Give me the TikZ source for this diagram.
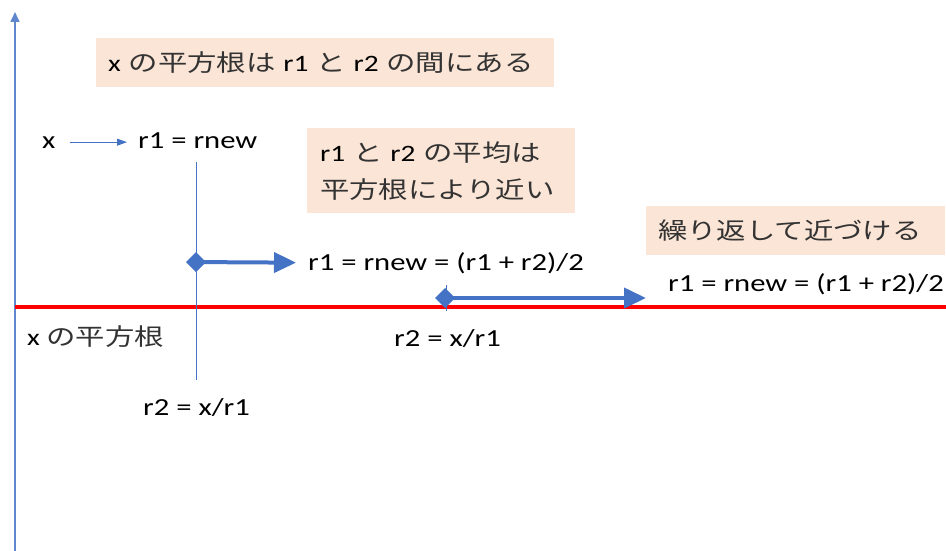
\documentclass[tikz,border=0pt]{standalone}
\usepackage{fontspec}
\setmainfont[FakeStretch=1.25]{Carlito}
\newfontfamily\jpfont[FakeStretch=1.25]{Noto Sans CJK JP}
\usetikzlibrary{shapes,arrows,arrows.meta}
\definecolor{lineblue}{HTML}{4472C4}
\definecolor{notefill}{HTML}{FBE5D6}
\newcommand{\ja}[1]{{\jpfont\color{black!80}#1}}
\DeclareRobustCommand{\notefont}{\fontsize{23.5}{37}\selectfont}
\DeclareRobustCommand{\termfont}{\fontsize{24.5}{30}\selectfont}

\begin{document}
\begin{tikzpicture}[x=1pt, y=-1pt]
\tikzstyle{note} = [rectangle, fill=notefill, anchor=north west, inner xsep=12pt, inner ysep=0pt, align=left, font=\notefont]
\tikzstyle{term} = [inner sep=0pt, anchor=base west, font=\termfont]
\tikzstyle{thin} = [draw, lineblue, line width=0.9pt]
\tikzstyle{step line} = [draw, lineblue, line width=4pt, {Diamond[length=20pt,width=20pt]}-{Triangle[length=22pt,width=20pt]}]

\useasboundingbox (0,0) rectangle (946,551);

% axes
\draw [lineblue!85, line width=1.6pt, -{Triangle[length=10pt,width=9pt]}] (15,551) -- (15,12);
\draw [red, line width=4pt] (15,307) -- (946,307);

% notes
\node [note, text width=434pt, minimum height=49pt] (bracket) at (96,38) {x \ja{の平方根は} r1 \ja{と} r2 \ja{の間にある}};
\node [note, text width=242pt, minimum height=85pt, inner xsep=13pt] (mean) at (307,128) {r1 \ja{と} r2 \ja{の平均は}\\\ja{平方根により近い}};
\node [note, text width=275pt, minimum height=49pt] (repeat) at (646,206) {\ja{繰り返して近づける}};

% first step
\node [term] (x) at (42,148) {x};
\node [term] (r1) at (138,148) {r1 = rnew};
\node [term] (avg1) at (308,270) {r1 = rnew = (r1 + r2)/2};
\node [term, font=\notefont] (root) at (27,345) {x \ja{の平方根}};
\node [term] (r2a) at (143,415) {r2 = x/r1};
\coordinate (top1) at (196,162);
\coordinate (bot1) at (196,380);
\coordinate (piv1) at (186,262);

\path [thin, -{Triangle[length=10pt,width=7pt]}, shorten <=14pt, shorten >=11pt] (x.east) -- (x.east -| r1.west);
\path [thin] (top1) -- (bot1);
\path [step line, shorten >=12pt] (piv1) -- (avg1.west);

% second step
\node [term] (r2b) at (394,346) {r2 = x/r1};
\node [term] (avg2) at (668,291) {r1 = rnew = (r1 + r2)/2};
\coordinate (top2) at (446,285);
\coordinate (bot2) at (446,311);
\coordinate (piv2) at (435,298);
\coordinate (end2) at (646,298);

\path [thin] (top2) -- (bot2);
\path [step line] (piv2) -- (end2);
\end{tikzpicture}
\end{document}
